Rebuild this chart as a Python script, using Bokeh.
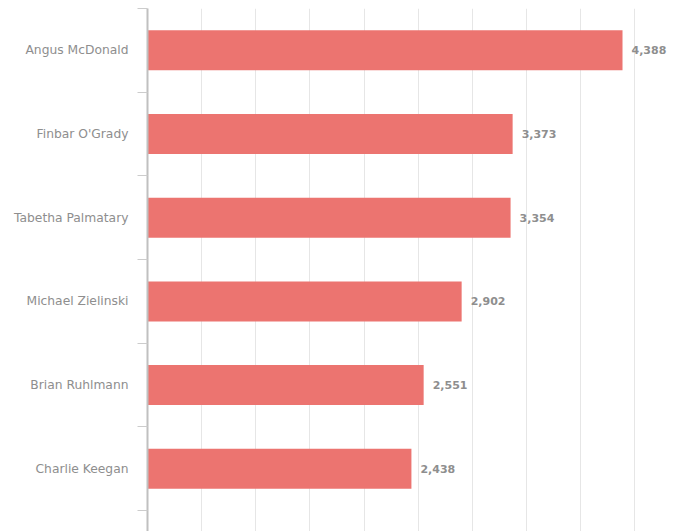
from bokeh.plotting import figure
from bokeh.models import Range1d, FixedTicker, SingleIntervalTicker, ColumnDataSource
from bokeh.core.properties import value
from bokeh.embed import file_html
from bokeh.resources import INLINE

names = ["Angus McDonald", "Finbar O'Grady", "Tabetha Palmatary", "Michael Zielinski",
         "Brian Ruhlmann", "Charlie Keegan"]
values = [4388, 3373, 3354, 2902, 2551, 2438]
value_labels = ["4,388", "3,373", "3,354", "2,902", "2,551", "2,438"]
# seventh bar, only its top edge peeks out below the visible area
extra_value = 2150

pos = [i + 0.5 for i in range(len(names))]
src = ColumnDataSource(dict(y=pos, v=values, lab=value_labels))

p = figure(width=673, height=531, output_backend="svg", toolbar_location=None,
           x_range=Range1d(0, 4859), y_range=Range1d(6.249, 0),
           min_border_left=147, min_border_right=0, min_border_top=8, min_border_bottom=0)
p.outline_line_color = None
p.background_fill_color = "white"
p.border_fill_color = "white"

p.xaxis.visible = False
p.xgrid.ticker = SingleIntervalTicker(interval=500)
p.xgrid.grid_line_color = "#e6e6e6"
p.xgrid.grid_line_width = 1
p.ygrid.visible = False

p.hbar(y="y", right="v", left=0, height=0.478, source=src,
       fill_color="#ec7470", line_color=None)
p.hbar(y=[len(names) + 0.5], right=[extra_value], left=0, height=0.478,
       fill_color="#ec7470", line_color=None)

p.text(x="v", y="y", text="lab", source=src, x_offset=9,
       text_baseline="middle", text_align="left",
       text_font=value("DejaVu Sans"), text_font_size="11px",
       text_font_style="bold", text_color="#8e8e8e")

yax = p.yaxis[0]
yax.ticker = FixedTicker(ticks=pos, minor_ticks=list(range(0, len(names) + 2)))
yax.major_label_overrides = {pv: n for pv, n in zip(pos, names)}
yax.major_tick_line_color = None
yax.major_tick_out = 0
yax.major_tick_in = 0
yax.minor_tick_line_color = "#cccccc"
yax.minor_tick_out = 10
yax.minor_tick_in = 0
yax.axis_line_color = "#c0c0c0"
yax.axis_line_width = 2
yax.major_label_standoff = 9
yax.major_label_text_font = "DejaVu Sans"
yax.major_label_text_font_size = "12.3px"
yax.major_label_text_color = "#8e8e8e"

open("out.html", "w").write(file_html(p, INLINE))
